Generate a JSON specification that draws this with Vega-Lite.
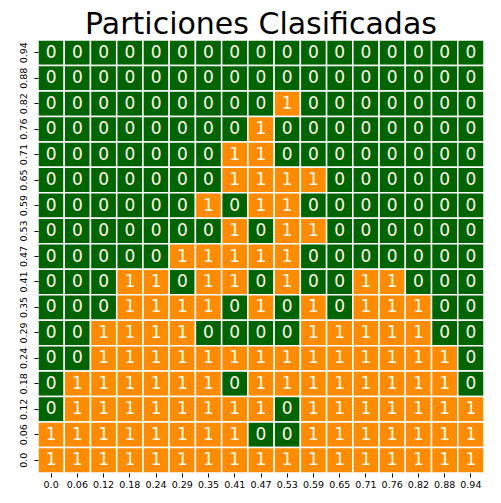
{
  "$schema": "https://vega.github.io/schema/vega-lite/v6.json",
  "autosize": {"type": "none"},
  "padding": {"left": 38, "top": 40, "right": 17, "bottom": 30},
  "width": 446,
  "height": 433,
  "background": "white",
  "title": {"text": "Particiones Clasificadas", "fontSize": 30, "font": "DejaVu Sans", "fontWeight": "normal", "anchor": "middle", "baseline": "alphabetic", "offset": 7, "dy": 32, "color": "black"},
  "config": {"view": {"stroke": null}, "axis": {"labelFont": "DejaVu Sans", "labelFontSize": 9.5, "labelColor": "black", "tickColor": "black", "domain": false, "grid": false, "title": null, "tickSize": 4, "labelPadding": 2}},
  "data": {"values": [
{"x":"0.0","y":"0.94","v":0},{"x":"0.06","y":"0.94","v":0},{"x":"0.12","y":"0.94","v":0},{"x":"0.18","y":"0.94","v":0},{"x":"0.24","y":"0.94","v":0},{"x":"0.29","y":"0.94","v":0},{"x":"0.35","y":"0.94","v":0},{"x":"0.41","y":"0.94","v":0},{"x":"0.47","y":"0.94","v":0},{"x":"0.53","y":"0.94","v":0},{"x":"0.59","y":"0.94","v":0},{"x":"0.65","y":"0.94","v":0},{"x":"0.71","y":"0.94","v":0},{"x":"0.76","y":"0.94","v":0},{"x":"0.82","y":"0.94","v":0},{"x":"0.88","y":"0.94","v":0},{"x":"0.94","y":"0.94","v":0},
{"x":"0.0","y":"0.88","v":0},{"x":"0.06","y":"0.88","v":0},{"x":"0.12","y":"0.88","v":0},{"x":"0.18","y":"0.88","v":0},{"x":"0.24","y":"0.88","v":0},{"x":"0.29","y":"0.88","v":0},{"x":"0.35","y":"0.88","v":0},{"x":"0.41","y":"0.88","v":0},{"x":"0.47","y":"0.88","v":0},{"x":"0.53","y":"0.88","v":0},{"x":"0.59","y":"0.88","v":0},{"x":"0.65","y":"0.88","v":0},{"x":"0.71","y":"0.88","v":0},{"x":"0.76","y":"0.88","v":0},{"x":"0.82","y":"0.88","v":0},{"x":"0.88","y":"0.88","v":0},{"x":"0.94","y":"0.88","v":0},
{"x":"0.0","y":"0.82","v":0},{"x":"0.06","y":"0.82","v":0},{"x":"0.12","y":"0.82","v":0},{"x":"0.18","y":"0.82","v":0},{"x":"0.24","y":"0.82","v":0},{"x":"0.29","y":"0.82","v":0},{"x":"0.35","y":"0.82","v":0},{"x":"0.41","y":"0.82","v":0},{"x":"0.47","y":"0.82","v":0},{"x":"0.53","y":"0.82","v":1},{"x":"0.59","y":"0.82","v":0},{"x":"0.65","y":"0.82","v":0},{"x":"0.71","y":"0.82","v":0},{"x":"0.76","y":"0.82","v":0},{"x":"0.82","y":"0.82","v":0},{"x":"0.88","y":"0.82","v":0},{"x":"0.94","y":"0.82","v":0},
{"x":"0.0","y":"0.76","v":0},{"x":"0.06","y":"0.76","v":0},{"x":"0.12","y":"0.76","v":0},{"x":"0.18","y":"0.76","v":0},{"x":"0.24","y":"0.76","v":0},{"x":"0.29","y":"0.76","v":0},{"x":"0.35","y":"0.76","v":0},{"x":"0.41","y":"0.76","v":0},{"x":"0.47","y":"0.76","v":1},{"x":"0.53","y":"0.76","v":0},{"x":"0.59","y":"0.76","v":0},{"x":"0.65","y":"0.76","v":0},{"x":"0.71","y":"0.76","v":0},{"x":"0.76","y":"0.76","v":0},{"x":"0.82","y":"0.76","v":0},{"x":"0.88","y":"0.76","v":0},{"x":"0.94","y":"0.76","v":0},
{"x":"0.0","y":"0.71","v":0},{"x":"0.06","y":"0.71","v":0},{"x":"0.12","y":"0.71","v":0},{"x":"0.18","y":"0.71","v":0},{"x":"0.24","y":"0.71","v":0},{"x":"0.29","y":"0.71","v":0},{"x":"0.35","y":"0.71","v":0},{"x":"0.41","y":"0.71","v":1},{"x":"0.47","y":"0.71","v":1},{"x":"0.53","y":"0.71","v":0},{"x":"0.59","y":"0.71","v":0},{"x":"0.65","y":"0.71","v":0},{"x":"0.71","y":"0.71","v":0},{"x":"0.76","y":"0.71","v":0},{"x":"0.82","y":"0.71","v":0},{"x":"0.88","y":"0.71","v":0},{"x":"0.94","y":"0.71","v":0},
{"x":"0.0","y":"0.65","v":0},{"x":"0.06","y":"0.65","v":0},{"x":"0.12","y":"0.65","v":0},{"x":"0.18","y":"0.65","v":0},{"x":"0.24","y":"0.65","v":0},{"x":"0.29","y":"0.65","v":0},{"x":"0.35","y":"0.65","v":0},{"x":"0.41","y":"0.65","v":1},{"x":"0.47","y":"0.65","v":1},{"x":"0.53","y":"0.65","v":1},{"x":"0.59","y":"0.65","v":1},{"x":"0.65","y":"0.65","v":0},{"x":"0.71","y":"0.65","v":0},{"x":"0.76","y":"0.65","v":0},{"x":"0.82","y":"0.65","v":0},{"x":"0.88","y":"0.65","v":0},{"x":"0.94","y":"0.65","v":0},
{"x":"0.0","y":"0.59","v":0},{"x":"0.06","y":"0.59","v":0},{"x":"0.12","y":"0.59","v":0},{"x":"0.18","y":"0.59","v":0},{"x":"0.24","y":"0.59","v":0},{"x":"0.29","y":"0.59","v":0},{"x":"0.35","y":"0.59","v":1},{"x":"0.41","y":"0.59","v":0},{"x":"0.47","y":"0.59","v":1},{"x":"0.53","y":"0.59","v":1},{"x":"0.59","y":"0.59","v":0},{"x":"0.65","y":"0.59","v":0},{"x":"0.71","y":"0.59","v":0},{"x":"0.76","y":"0.59","v":0},{"x":"0.82","y":"0.59","v":0},{"x":"0.88","y":"0.59","v":0},{"x":"0.94","y":"0.59","v":0},
{"x":"0.0","y":"0.53","v":0},{"x":"0.06","y":"0.53","v":0},{"x":"0.12","y":"0.53","v":0},{"x":"0.18","y":"0.53","v":0},{"x":"0.24","y":"0.53","v":0},{"x":"0.29","y":"0.53","v":0},{"x":"0.35","y":"0.53","v":0},{"x":"0.41","y":"0.53","v":1},{"x":"0.47","y":"0.53","v":0},{"x":"0.53","y":"0.53","v":1},{"x":"0.59","y":"0.53","v":1},{"x":"0.65","y":"0.53","v":0},{"x":"0.71","y":"0.53","v":0},{"x":"0.76","y":"0.53","v":0},{"x":"0.82","y":"0.53","v":0},{"x":"0.88","y":"0.53","v":0},{"x":"0.94","y":"0.53","v":0},
{"x":"0.0","y":"0.47","v":0},{"x":"0.06","y":"0.47","v":0},{"x":"0.12","y":"0.47","v":0},{"x":"0.18","y":"0.47","v":0},{"x":"0.24","y":"0.47","v":0},{"x":"0.29","y":"0.47","v":1},{"x":"0.35","y":"0.47","v":1},{"x":"0.41","y":"0.47","v":1},{"x":"0.47","y":"0.47","v":1},{"x":"0.53","y":"0.47","v":1},{"x":"0.59","y":"0.47","v":0},{"x":"0.65","y":"0.47","v":0},{"x":"0.71","y":"0.47","v":0},{"x":"0.76","y":"0.47","v":0},{"x":"0.82","y":"0.47","v":0},{"x":"0.88","y":"0.47","v":0},{"x":"0.94","y":"0.47","v":0},
{"x":"0.0","y":"0.41","v":0},{"x":"0.06","y":"0.41","v":0},{"x":"0.12","y":"0.41","v":0},{"x":"0.18","y":"0.41","v":1},{"x":"0.24","y":"0.41","v":1},{"x":"0.29","y":"0.41","v":0},{"x":"0.35","y":"0.41","v":1},{"x":"0.41","y":"0.41","v":1},{"x":"0.47","y":"0.41","v":0},{"x":"0.53","y":"0.41","v":1},{"x":"0.59","y":"0.41","v":0},{"x":"0.65","y":"0.41","v":0},{"x":"0.71","y":"0.41","v":1},{"x":"0.76","y":"0.41","v":1},{"x":"0.82","y":"0.41","v":0},{"x":"0.88","y":"0.41","v":0},{"x":"0.94","y":"0.41","v":0},
{"x":"0.0","y":"0.35","v":0},{"x":"0.06","y":"0.35","v":0},{"x":"0.12","y":"0.35","v":0},{"x":"0.18","y":"0.35","v":1},{"x":"0.24","y":"0.35","v":1},{"x":"0.29","y":"0.35","v":1},{"x":"0.35","y":"0.35","v":1},{"x":"0.41","y":"0.35","v":0},{"x":"0.47","y":"0.35","v":1},{"x":"0.53","y":"0.35","v":0},{"x":"0.59","y":"0.35","v":1},{"x":"0.65","y":"0.35","v":0},{"x":"0.71","y":"0.35","v":1},{"x":"0.76","y":"0.35","v":1},{"x":"0.82","y":"0.35","v":1},{"x":"0.88","y":"0.35","v":0},{"x":"0.94","y":"0.35","v":0},
{"x":"0.0","y":"0.29","v":0},{"x":"0.06","y":"0.29","v":0},{"x":"0.12","y":"0.29","v":1},{"x":"0.18","y":"0.29","v":1},{"x":"0.24","y":"0.29","v":1},{"x":"0.29","y":"0.29","v":1},{"x":"0.35","y":"0.29","v":0},{"x":"0.41","y":"0.29","v":0},{"x":"0.47","y":"0.29","v":0},{"x":"0.53","y":"0.29","v":0},{"x":"0.59","y":"0.29","v":1},{"x":"0.65","y":"0.29","v":1},{"x":"0.71","y":"0.29","v":1},{"x":"0.76","y":"0.29","v":1},{"x":"0.82","y":"0.29","v":1},{"x":"0.88","y":"0.29","v":0},{"x":"0.94","y":"0.29","v":0},
{"x":"0.0","y":"0.24","v":0},{"x":"0.06","y":"0.24","v":0},{"x":"0.12","y":"0.24","v":1},{"x":"0.18","y":"0.24","v":1},{"x":"0.24","y":"0.24","v":1},{"x":"0.29","y":"0.24","v":1},{"x":"0.35","y":"0.24","v":1},{"x":"0.41","y":"0.24","v":1},{"x":"0.47","y":"0.24","v":1},{"x":"0.53","y":"0.24","v":1},{"x":"0.59","y":"0.24","v":1},{"x":"0.65","y":"0.24","v":1},{"x":"0.71","y":"0.24","v":1},{"x":"0.76","y":"0.24","v":1},{"x":"0.82","y":"0.24","v":1},{"x":"0.88","y":"0.24","v":1},{"x":"0.94","y":"0.24","v":0},
{"x":"0.0","y":"0.18","v":0},{"x":"0.06","y":"0.18","v":1},{"x":"0.12","y":"0.18","v":1},{"x":"0.18","y":"0.18","v":1},{"x":"0.24","y":"0.18","v":1},{"x":"0.29","y":"0.18","v":1},{"x":"0.35","y":"0.18","v":1},{"x":"0.41","y":"0.18","v":0},{"x":"0.47","y":"0.18","v":1},{"x":"0.53","y":"0.18","v":1},{"x":"0.59","y":"0.18","v":1},{"x":"0.65","y":"0.18","v":1},{"x":"0.71","y":"0.18","v":1},{"x":"0.76","y":"0.18","v":1},{"x":"0.82","y":"0.18","v":1},{"x":"0.88","y":"0.18","v":1},{"x":"0.94","y":"0.18","v":0},
{"x":"0.0","y":"0.12","v":0},{"x":"0.06","y":"0.12","v":1},{"x":"0.12","y":"0.12","v":1},{"x":"0.18","y":"0.12","v":1},{"x":"0.24","y":"0.12","v":1},{"x":"0.29","y":"0.12","v":1},{"x":"0.35","y":"0.12","v":1},{"x":"0.41","y":"0.12","v":1},{"x":"0.47","y":"0.12","v":1},{"x":"0.53","y":"0.12","v":0},{"x":"0.59","y":"0.12","v":1},{"x":"0.65","y":"0.12","v":1},{"x":"0.71","y":"0.12","v":1},{"x":"0.76","y":"0.12","v":1},{"x":"0.82","y":"0.12","v":1},{"x":"0.88","y":"0.12","v":1},{"x":"0.94","y":"0.12","v":1},
{"x":"0.0","y":"0.06","v":1},{"x":"0.06","y":"0.06","v":1},{"x":"0.12","y":"0.06","v":1},{"x":"0.18","y":"0.06","v":1},{"x":"0.24","y":"0.06","v":1},{"x":"0.29","y":"0.06","v":1},{"x":"0.35","y":"0.06","v":1},{"x":"0.41","y":"0.06","v":1},{"x":"0.47","y":"0.06","v":0},{"x":"0.53","y":"0.06","v":0},{"x":"0.59","y":"0.06","v":1},{"x":"0.65","y":"0.06","v":1},{"x":"0.71","y":"0.06","v":1},{"x":"0.76","y":"0.06","v":1},{"x":"0.82","y":"0.06","v":1},{"x":"0.88","y":"0.06","v":1},{"x":"0.94","y":"0.06","v":1},
{"x":"0.0","y":"0.0","v":1},{"x":"0.06","y":"0.0","v":1},{"x":"0.12","y":"0.0","v":1},{"x":"0.18","y":"0.0","v":1},{"x":"0.24","y":"0.0","v":1},{"x":"0.29","y":"0.0","v":1},{"x":"0.35","y":"0.0","v":1},{"x":"0.41","y":"0.0","v":1},{"x":"0.47","y":"0.0","v":1},{"x":"0.53","y":"0.0","v":1},{"x":"0.59","y":"0.0","v":1},{"x":"0.65","y":"0.0","v":1},{"x":"0.71","y":"0.0","v":1},{"x":"0.76","y":"0.0","v":1},{"x":"0.82","y":"0.0","v":1},{"x":"0.88","y":"0.0","v":1},{"x":"0.94","y":"0.0","v":1}
  ]},
  "encoding": {
    "x": {"field": "x", "type": "ordinal", "sort": ["0.0","0.06","0.12","0.18","0.24","0.29","0.35","0.41","0.47","0.53","0.59","0.65","0.71","0.76","0.82","0.88","0.94"], "scale": {"paddingInner": 0, "paddingOuter": 0}, "axis": {"labelAngle": 0}},
    "y": {"field": "y", "type": "ordinal", "sort": ["0.94","0.88","0.82","0.76","0.71","0.65","0.59","0.53","0.47","0.41","0.35","0.29","0.24","0.18","0.12","0.06","0.0"], "scale": {"paddingInner": 0, "paddingOuter": 0}, "axis": {"labelAngle": -90, "labelAlign": "center", "labelBaseline": "bottom", "labelPadding": 6}}
  },
  "layer": [
    {"mark": {"type": "rect", "stroke": "white", "strokeWidth": 1.5},
     "encoding": {"color": {"field": "v", "type": "nominal", "scale": {"domain": [0, 1], "range": ["#006400", "#ff8c00"]}, "legend": null}}},
    {"mark": {"type": "text", "font": "DejaVu Sans", "fontSize": 17, "color": "#fffbe8", "baseline": "middle"},
     "encoding": {"text": {"field": "v", "type": "nominal"}}}
  ]
}
